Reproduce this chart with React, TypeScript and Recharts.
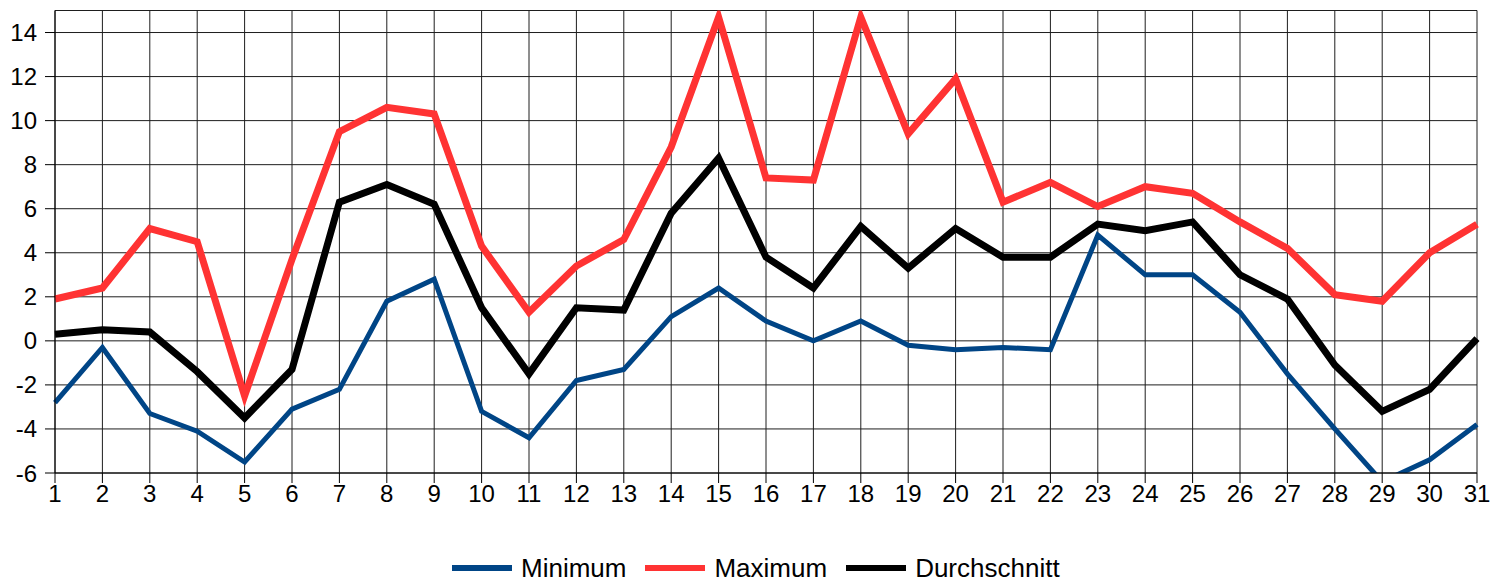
import React from 'react';
import { LineChart, Line, XAxis, YAxis, CartesianGrid, Legend, ReferenceLine } from 'recharts';

const days = [1, 2, 3, 4, 5, 6, 7, 8, 9, 10, 11, 12, 13, 14, 15, 16, 17, 18, 19, 20, 21, 22, 23, 24, 25, 26, 27, 28, 29, 30, 31];
const minimum = [-2.8, -0.3, -3.3, -4.1, -5.5, -3.1, -2.2, 1.8, 2.8, -3.2, -4.4, -1.8, -1.3, 1.1, 2.4, 0.9, 0.0, 0.9, -0.2, -0.4, -0.3, -0.4, 4.8, 3.0, 3.0, 1.3, -1.5, -4.0, -6.4, -5.4, -3.8];
const maximum = [1.9, 2.4, 5.1, 4.5, -2.5, 3.7, 9.5, 10.6, 10.3, 4.3, 1.3, 3.4, 4.6, 8.8, 14.7, 7.4, 7.3, 14.7, 9.4, 11.9, 6.3, 7.2, 6.1, 7.0, 6.7, 5.4, 4.2, 2.1, 1.8, 4.0, 5.3];
const average = [0.3, 0.5, 0.4, -1.4, -3.5, -1.3, 6.3, 7.1, 6.2, 1.5, -1.5, 1.5, 1.4, 5.8, 8.3, 3.8, 2.4, 5.2, 3.3, 5.1, 3.8, 3.8, 5.3, 5.0, 5.4, 3.0, 1.9, -1.1, -3.2, -2.2, 0.1];
const yTicks = [-6, -4, -2, 0, 2, 4, 6, 8, 10, 12, 14];

const seriesNames = ['Minimum', 'Maximum', 'Durchschnitt'];
const seriesColors = ['#004586', '#ff3333', '#000000'];

const data = days.map((d, i) => ({ day: d, min: minimum[i], max: maximum[i], avg: average[i] }));

const FONT = '"Liberation Sans", Arial, sans-serif';
const GRID = '#1e1e1e';

const LegendContent = () => (
  <div style={{ display: 'flex', alignItems: 'center', height: 22, paddingLeft: 444, fontFamily: FONT, fontSize: 26, color: '#000', lineHeight: '22px', whiteSpace: 'nowrap', position: 'relative', top: -4 }}>
    {seriesNames.map((n, i) => (
      <div key={n} style={{ display: 'flex', alignItems: 'center', marginRight: 19 }}>
        <div style={{ width: 60, height: 6, background: seriesColors[i], marginRight: 9 }} />
        <span>{n}</span>
      </div>
    ))}
  </div>
);

export default function App() {
  return (
    <LineChart width={1487} height={575} data={data} margin={{ top: 2.5, right: 18, left: 0, bottom: 0 }}>
      <CartesianGrid stroke={GRID} strokeWidth={1} horizontalValues={yTicks} />
      <XAxis
        dataKey="day"
        type="number"
        domain={[1, 31]}
        ticks={days}
        interval={0}
        height={88}
        tickSize={10}
        tickMargin={2}
        stroke="#000"
        tick={{ fill: '#000', fontSize: 24, fontFamily: FONT }}
      />
      <YAxis
        type="number"
        domain={[-6, 15]}
        ticks={yTicks}
        allowDataOverflow
        width={47}
        tickSize={10}
        tickMargin={8}
        stroke="#000"
        tick={{ fill: '#000', fontSize: 24, fontFamily: FONT }}
      />
      <ReferenceLine y={15} stroke={GRID} strokeWidth={1} />
      <Legend verticalAlign="bottom" height={22} content={<LegendContent />} wrapperStyle={{ left: 0, width: 1487, height: 22 }} />
      <Line dataKey="min" name="Minimum" stroke={seriesColors[0]} strokeWidth={5} dot={false} isAnimationActive={false} />
      <Line dataKey="max" name="Maximum" stroke={seriesColors[1]} strokeWidth={7} dot={false} isAnimationActive={false} />
      <Line dataKey="avg" name="Durchschnitt" stroke={seriesColors[2]} strokeWidth={7} dot={false} isAnimationActive={false} />
    </LineChart>
  );
}
